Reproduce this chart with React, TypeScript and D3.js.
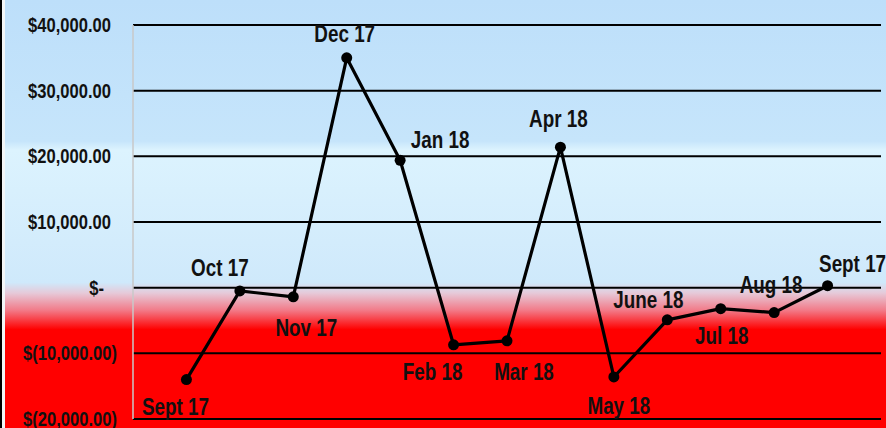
import React from 'react';
import * as d3 from "d3";

// monthly values
const months = ["Sept 17", "Oct 17", "Nov 17", "Dec 17", "Jan 18", "Feb 18", "Mar 18",
  "Apr 18", "May 18", "June 18", "Jul 18", "Aug 18", "Sept 17 "];
const values = [-14000, -500, -1400, 35000, 19400, -8700, -8100, 21400, -13600, -4900, -3200, -3800, 300];
const yTicks = [-20000, -10000, 0, 10000, 20000, 30000, 40000];

// where each point label sits relative to its point
const labelOffsets = [[-11, 35], [-20, -15], [13, 39], [-2, -16], [40, -12], [-21, 35], [17, 39],
  [-2, -20], [5, 37], [-19, -12], [1, 35], [-3, -20], [25, -14]];

const W = 886, H = 428;
const NARROW = 0.82; // the chart font is a condensed one, squeeze Liberation Sans

function money(v: number) {
  if (v === 0) return "$-";
  const s = d3.format(",.2f")(Math.abs(v));
  return v < 0 ? "$(" + s + ")" : "$" + s;
}

export default class App extends React.Component {
  svgRef = React.createRef<SVGSVGElement>();

  componentDidMount() {
    this.createGraph();
  }

  createGraph() {
    const svg = d3.select(this.svgRef.current);
    svg.selectAll("*").remove();

    const margin = {top: 25, right: 5, bottom: 9, left: 133};
    const x = d3.scalePoint().domain(months).range([margin.left, W - margin.right]).padding(1);
    const y = d3.scaleLinear().domain([-20000, 40000]).range([H - margin.bottom, margin.top]);

    // background
    const defs = svg.append("defs");
    const grad = defs.append("linearGradient").attr("id", "bg")
      .attr("x1", 0).attr("y1", 0).attr("x2", 0).attr("y2", 1);
    [["0", "#bddffa"], ["0.33", "#c6e5fb"], ["0.35", "#dcf3fe"], ["0.66", "#cfe9fb"],
     ["0.685", "#e6c9d8"], ["0.725", "#f27a88"], ["0.77", "#ff0000"], ["1", "#ff0000"]]
      .forEach(([o, c]) => grad.append("stop").attr("offset", o).attr("stop-color", c));

    svg.append("rect").attr("width", W).attr("height", H).attr("fill", "url(#bg)");
    svg.append("rect").attr("x", 2).attr("width", 3).attr("height", H).attr("fill", "#f2f6f8");
    svg.append("rect").attr("width", 2).attr("height", H).attr("fill", "#000");

    // grid
    svg.append("g").selectAll("line").data(yTicks).join("line")
      .attr("x1", margin.left).attr("x2", W - margin.right)
      .attr("y1", d => y(d)).attr("y2", d => y(d))
      .attr("stroke", "#000").attr("stroke-width", 2);

    svg.append("line")
      .attr("x1", margin.left).attr("x2", margin.left)
      .attr("y1", y(40000)).attr("y2", y(-20000))
      .attr("stroke", "#c8c8c8").attr("stroke-width", 1.5);

    const font = "'Liberation Sans', Arial, sans-serif";

    svg.append("g").selectAll("text").data(yTicks).join("text")
      .attr("transform", d => {
        const dx = d === 0 ? -13 : d > 0 ? -6 : 0;
        return "translate(" + (117 + dx) + "," + y(d) + ") scale(0.85,1)";
      })
      .attr("dy", "0.36em")
      .attr("text-anchor", "end")
      .attr("font-family", font).attr("font-weight", "bold").attr("font-size", 19.5)
      .attr("fill", "#111")
      .text(d => money(d));

    // line + markers
    const line = d3.line<number>()
      .x((d, i) => x(months[i]) as number)
      .y(d => y(d));

    svg.append("path").datum(values)
      .attr("fill", "none").attr("stroke", "#000")
      .attr("stroke-width", 3.2).attr("stroke-linejoin", "round")
      .attr("d", line);

    svg.append("g").selectAll("circle").data(values).join("circle")
      .attr("cx", (d, i) => x(months[i]) as number)
      .attr("cy", d => y(d)).attr("r", 5.5).attr("fill", "#000");

    svg.append("g").selectAll("text").data(values).join("text")
      .attr("transform", (d, i) => {
        const tx = (x(months[i]) as number) + labelOffsets[i][0];
        const ty = y(d) + labelOffsets[i][1];
        return "translate(" + tx + "," + ty + ") scale(" + NARROW + ",1)";
      })
      .attr("text-anchor", "middle")
      .attr("font-family", font).attr("font-weight", "bold").attr("font-size", 23)
      .attr("fill", "#111")
      .text((d, i) => months[i].trim());
  }

  render() {
    return (
      <div style={{position: "absolute", left: 0, top: 0}}>
        <svg ref={this.svgRef} width={W} height={H} style={{display: "block"}}></svg>
      </div>
    );
  }
}
